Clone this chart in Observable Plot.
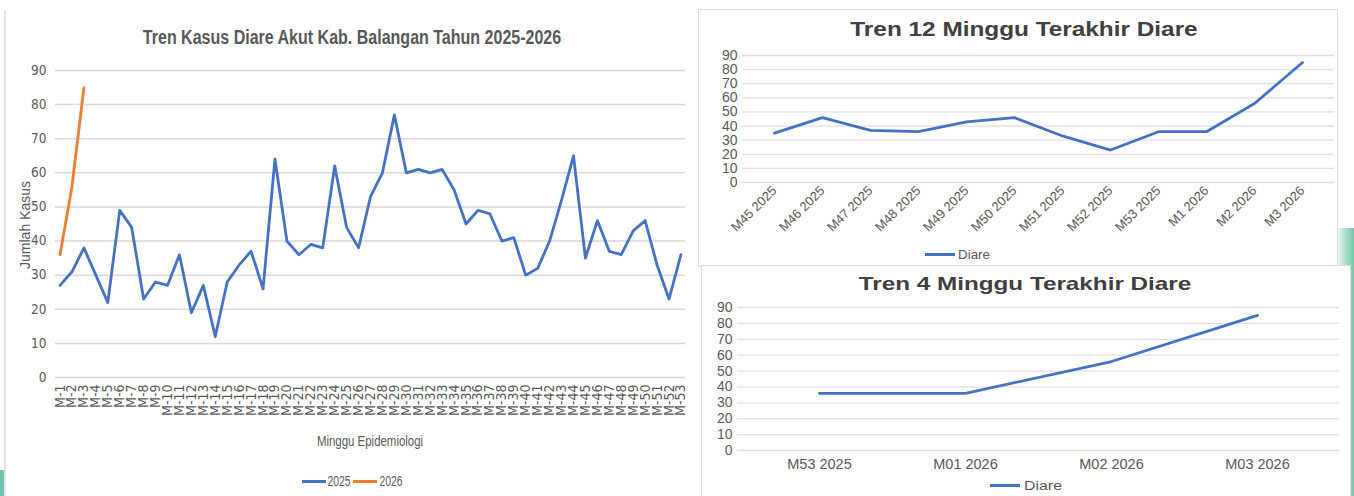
<!DOCTYPE html>
<html>
<head>
<meta charset="utf-8">
<script src="https://cdn.jsdelivr.net/npm/d3@7"></script>
<script src="https://cdn.jsdelivr.net/npm/@observablehq/plot@0.6"></script>
<style>
  html, body { margin: 0; padding: 0; background: #fff; }
  #page { position: relative; width: 1354px; height: 496px; overflow: hidden; background: #fff; }
  .abs { position: absolute; }
  .txt { position: absolute; white-space: nowrap; transform: translate(-50%, -50%); line-height: 1; }
  .narrow { font-family: "Liberation Sans Narrow", "DejaVu Sans Condensed", "Liberation Sans", sans-serif; }
  .sans { font-family: "Liberation Sans", Arial, sans-serif; }
</style>
</head>
<body>
<div id="page"></div>
<script>
// ---------------- DATA ----------------
const weeks = ["M-1","M-2","M-3","M-4","M-5","M-6","M-7","M-8","M-9","M-10","M-11","M-12","M-13","M-14","M-15","M-16","M-17","M-18","M-19","M-20","M-21","M-22","M-23","M-24","M-25","M-26","M-27","M-28","M-29","M-30","M-31","M-32","M-33","M-34","M-35","M-36","M-37","M-38","M-39","M-40","M-41","M-42","M-43","M-44","M-45","M-46","M-47","M-48","M-49","M-50","M-51","M-52","M-53"];
const cases2025 = [27,31,38,30,22,49,44,23,28,27,36,19,27,12,28,33,37,26,64,40,36,39,38,62,44,38,53,60,77,60,61,60,61,55,45,49,48,40,41,30,32,40,52,65,35,46,37,36,43,46,33,23,36];
const weeks2026 = ["M-1","M-2","M-3"];
const cases2026 = [36,56,85];

const last12Labels = ["M45 2025","M46 2025","M47 2025","M48 2025","M49 2025","M50 2025","M51 2025","M52 2025","M53 2025","M1 2026","M2 2026","M3 2026"];
const last12Values = [35,46,37,36,43,46,33,23,36,36,56,85];

const last4Labels = ["M53 2025","M01 2026","M02 2026","M03 2026"];
const last4Values = [36,36,56,85];

const yTicks = [0,10,20,30,40,50,60,70,80,90];

// ---------------- HELPERS ----------------
const page = document.getElementById("page");
function place(node, left, top) {
  const d = document.createElement("div");
  d.className = "abs";
  d.style.left = left + "px";
  d.style.top = top + "px";
  d.appendChild(node);
  page.appendChild(d);
  return d;
}
// centered text; if fit is given, stretched/condensed horizontally to that width
function text(str, x, y, cls, style, fit, rotate) {
  const d = document.createElement("div");
  d.className = "txt " + cls;
  d.textContent = str;
  d.style.left = x + "px";
  d.style.top = y + "px";
  Object.assign(d.style, style || {});
  page.appendChild(d);
  let s = 1;
  if (fit) s = fit / d.offsetWidth;
  d.style.transform = "translate(-50%, -50%)" + (rotate ? ` rotate(${rotate}deg)` : "") + ` scaleX(${s})`;
  return d;
}
function box(left, top, w, h, style) {
  const d = document.createElement("div");
  d.className = "abs";
  Object.assign(d.style, {left: left + "px", top: top + "px", width: w + "px", height: h + "px", boxSizing: "border-box"}, style);
  page.appendChild(d);
  return d;
}
function legendLine(x1, x2, y, color) {
  box(x1, y - 1.5, x2 - x1, 3, {background: color});
}

// decorative panel borders / backdrop
box(4, 10, 2, 486, {background: "#e3e3e3"});
box(0, 470, 4, 26, {background: "#6fc2ab"});
box(1336, 228, 18, 268, {background: "linear-gradient(to right, #ffffff, #b5e2d2 45%, #74c7aa)"});
box(698, 9, 640, 258, {border: "1.5px solid #dcdcdc", background: "#fff"});
box(701, 265, 650, 240, {border: "1.5px solid #dcdcdc", background: "#fff"});

// ---------------- MAIN CHART ----------------
const rows2025 = weeks.map((w, i) => ({week: w, cases: cases2025[i]}));
const rows2026 = weeks2026.map((w, i) => ({week: w, cases: cases2026[i]}));

const main = Plot.plot({
  width: 695, height: 380,
  marginLeft: 55, marginRight: 10, marginTop: 10, marginBottom: 63,
  style: {fontFamily: '"Liberation Sans Narrow", "DejaVu Sans Condensed", sans-serif', fontSize: "12px", color: "#595959", background: "transparent", overflow: "visible"},
  x: {type: "point", domain: weeks, padding: 0.38, label: null},
  y: {domain: [0, 90], label: null},
  marks: [
    Plot.ruleY(yTicks, {stroke: "#d9d9d9", strokeWidth: 1.5}),
    Plot.axisY({ticks: yTicks, tickSize: 0, tickPadding: 9, label: null, fontSize: 13.5}),
    Plot.axisX({tickSize: 0, tickRotate: -90, tickPadding: 7, label: null, fontSize: 14}),
    Plot.line(rows2025, {x: "week", y: "cases", stroke: "#4472C4", strokeWidth: 2.8}),
    Plot.line(rows2026, {x: "week", y: "cases", stroke: "#ED7D31", strokeWidth: 2.8})
  ]
});
place(main, 0, 60);

text("Tren Kasus Diare Akut Kab. Balangan Tahun 2025-2026", 352, 37, "sans", {fontSize: "20px", fontWeight: "bold", color: "#595959"}, 418);
text("Minggu Epidemiologi", 370, 440, "sans", {fontSize: "15px", color: "#595959"}, 106);
text("Jumlah Kasus", 25, 225, "sans", {fontSize: "14px", color: "#595959"}, null, -90);
legendLine(302, 326, 481, "#4472C4");
text("2025", 338.5, 481, "sans", {fontSize: "14px", color: "#595959"}, 23);
legendLine(353, 377, 481, "#ED7D31");
text("2026", 390.5, 481, "sans", {fontSize: "14px", color: "#595959"}, 23);

// ---------------- LAST 12 WEEKS ----------------
const rows12 = last12Labels.map((w, i) => ({week: w, cases: last12Values[i]}));
const c12 = Plot.plot({
  width: 640, height: 200,
  marginLeft: 44, marginRight: 4, marginTop: 10, marginBottom: 63,
  style: {fontFamily: '"Liberation Sans", Arial, sans-serif', fontSize: "12px", color: "#595959", background: "transparent", overflow: "visible"},
  x: {type: "point", domain: last12Labels, padding: 0.56, label: null},
  y: {domain: [0, 90], label: null},
  marks: [
    Plot.ruleY(yTicks, {stroke: "#e0e0e0", strokeWidth: 1.3}),
    Plot.axisY({ticks: yTicks, tickSize: 0, tickPadding: 5, label: null, fontSize: 14}),
    Plot.axisX({tickSize: 0, tickRotate: -45, tickPadding: 6, label: null, fontSize: 13}),
    Plot.line(rows12, {x: "week", y: "cases", stroke: "#4472C4", strokeWidth: 2.8})
  ]
});
place(c12, 698, 45);
text("Tren 12 Minggu Terakhir Diare", 1024, 29, "sans", {fontSize: "20px", fontWeight: "bold", color: "#404040"}, 347);
legendLine(925, 955, 254, "#4472C4");
text("Diare", 974, 254, "sans", {fontSize: "13px", color: "#595959"}, 32);

// ---------------- LAST 4 WEEKS ----------------
const rows4 = last4Labels.map((w, i) => ({week: w, cases: last4Values[i]}));
const c4 = Plot.plot({
  width: 638, height: 175,
  marginLeft: 36, marginRight: 0, marginTop: 7, marginBottom: 25,
  style: {fontFamily: '"Liberation Sans", Arial, sans-serif', fontSize: "12px", color: "#595959", background: "transparent", overflow: "visible"},
  x: {type: "point", domain: last4Labels, padding: 0.55, label: null},
  y: {domain: [0, 90], label: null},
  marks: [
    Plot.ruleY(yTicks, {stroke: "#e0e0e0", strokeWidth: 1.3}),
    Plot.axisY({ticks: yTicks, tickSize: 0, tickPadding: 5, label: null, fontSize: 14}),
    Plot.axisX({tickSize: 0, tickPadding: 8, label: null, fontSize: 14.5}),
    Plot.line(rows4, {x: "week", y: "cases", stroke: "#4472C4", strokeWidth: 2.8})
  ]
});
place(c4, 701, 300);
text("Tren 4 Minggu Terakhir Diare", 1025, 283, "sans", {fontSize: "19px", fontWeight: "bold", color: "#404040"}, 332);
legendLine(990, 1020, 485, "#4472C4");
text("Diare", 1043, 485, "sans", {fontSize: "13px", color: "#595959"}, 38);
</script>
</body>
</html>
